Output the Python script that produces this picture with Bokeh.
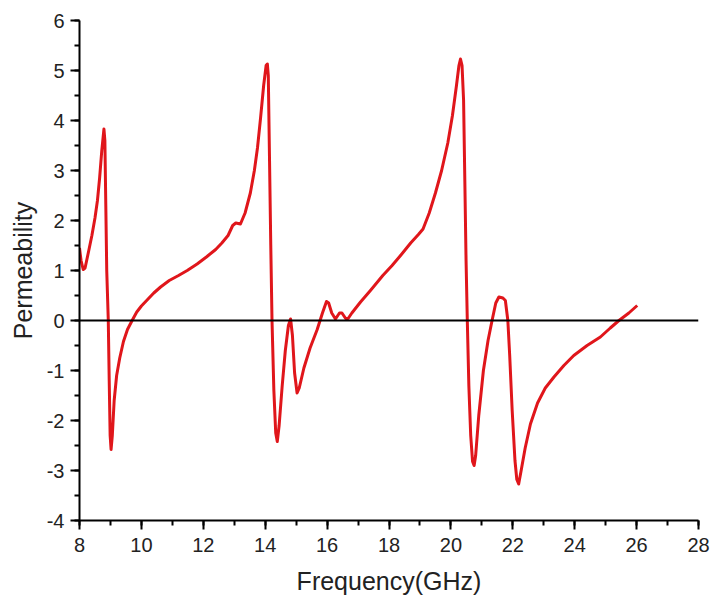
from bokeh.plotting import figure
from bokeh.models import Range1d, SingleIntervalTicker, Span, PrintfTickFormatter
from bokeh.embed import file_html
from bokeh.resources import INLINE

freq = [8.00, 8.05, 8.12, 8.18, 8.30, 8.40, 8.50, 8.58, 8.65, 8.72, 8.79, 8.82, 8.85, 8.88, 8.93,
        8.96, 8.99, 9.02, 9.06, 9.12, 9.20, 9.30, 9.42, 9.55, 9.70, 9.85, 10.00, 10.20, 10.40,
        10.62, 10.90, 11.20, 11.48, 11.80, 12.10, 12.40, 12.60, 12.80, 12.95, 13.05, 13.20,
        13.35, 13.52, 13.65, 13.75, 13.85, 13.95, 14.03, 14.07, 14.10, 14.14, 14.18, 14.22,
        14.28, 14.34, 14.39, 14.45, 14.55, 14.65, 14.75, 14.82, 14.88, 14.95, 15.03, 15.10,
        15.25, 15.45, 15.68, 15.85, 15.98, 16.05, 16.15, 16.27, 16.40, 16.48, 16.60, 16.68,
        16.80, 17.08, 17.40, 17.80, 18.10, 18.40, 18.70, 18.95, 19.10, 19.30, 19.50, 19.70,
        19.90, 20.05, 20.18, 20.26, 20.31, 20.36, 20.41, 20.45, 20.49, 20.53, 20.58, 20.64,
        20.70, 20.75, 20.80, 20.90, 21.05, 21.20, 21.33, 21.45, 21.55, 21.68, 21.76, 21.80,
        21.84, 21.90, 21.98, 22.07, 22.13, 22.19, 22.27, 22.40, 22.57, 22.80, 23.05, 23.33,
        23.65, 23.97, 24.40, 24.83, 25.15, 25.43, 25.75, 26.02]

permeability = [1.45, 1.20, 1.02, 1.05, 1.40, 1.70, 2.05, 2.40, 2.85, 3.40, 3.83, 3.60, 2.30, 1.00, 0.00,
                -1.20, -2.30, -2.58, -2.30, -1.60, -1.10, -0.75, -0.42, -0.18, 0.00, 0.17, 0.29, 0.42, 0.55,
                0.67, 0.80, 0.90, 1.00, 1.13, 1.27, 1.42, 1.55, 1.70, 1.90, 1.95, 1.93,
                2.15, 2.55, 3.00, 3.45, 4.05, 4.70, 5.10, 5.13, 4.90, 3.20, 1.50, 0.00,
                -1.40, -2.25, -2.42, -2.10, -1.30, -0.60, -0.10, 0.03, -0.30, -1.05, -1.45, -1.35,
                -0.95, -0.55, -0.18, 0.15, 0.38, 0.35, 0.15, 0.03, 0.15, 0.15, 0.04, 0.04,
                0.15, 0.37, 0.60, 0.90, 1.10, 1.32, 1.55, 1.72, 1.83, 2.15, 2.55, 3.00,
                3.55, 4.10, 4.70, 5.10, 5.23, 5.10, 4.40, 2.80, 1.20, 0.00, -1.30, -2.30,
                -2.82, -2.90, -2.70, -1.90, -1.00, -0.40, 0.00, 0.35, 0.47, 0.45, 0.40, 0.20,
                0.00, -0.70, -1.80, -2.80, -3.18, -3.27, -3.00, -2.55, -2.07, -1.65, -1.35, -1.13,
                -0.90, -0.70, -0.50, -0.33, -0.15, 0.00, 0.15, 0.30]

x_label = "Frequency(GHz)"
y_label = "Permeability"
FONT = "Liberation Sans"

p = figure(width=714, height=599, output_backend="svg", toolbar_location=None,
           x_range=Range1d(8, 28), y_range=Range1d(-4, 6),
           min_border_left=79, min_border_right=16, min_border_top=20, min_border_bottom=79)
p.outline_line_color = None
p.xgrid.visible = False
p.ygrid.visible = False
p.background_fill_color = "white"
p.border_fill_color = "white"

p.xaxis.ticker = SingleIntervalTicker(interval=2, num_minor_ticks=2)
p.yaxis.ticker = SingleIntervalTicker(interval=1, num_minor_ticks=2)

for ax in (p.xaxis[0], p.yaxis[0]):
    ax.formatter = PrintfTickFormatter(format="%d")
    ax.axis_line_width = 2
    ax.axis_line_color = "black"
    ax.major_tick_line_width = 2
    ax.minor_tick_line_width = 2
    ax.major_tick_line_color = "black"
    ax.minor_tick_line_color = "black"
    ax.major_tick_out = 9
    ax.major_tick_in = 0
    ax.minor_tick_out = 5
    ax.minor_tick_in = 0
    ax.major_label_text_font = FONT
    ax.major_label_text_font_size = "20px"
    ax.major_label_text_color = "#222222"
    ax.axis_label_text_font = FONT
    ax.axis_label_text_font_size = "25px"
    ax.axis_label_text_font_style = "normal"
    ax.axis_label_text_color = "#222222"

p.xaxis.axis_label = x_label
p.yaxis.axis_label = y_label
p.xaxis.major_label_standoff = 8
p.yaxis.major_label_standoff = 6
p.xaxis.axis_label_standoff = 12
p.yaxis.axis_label_standoff = 7

zero = Span(location=0, dimension="width", line_color="black", line_width=2)
p.add_layout(zero)

p.line(freq, permeability, line_color="#e0161b", line_width=3, line_join="round")

open("out.html", "w").write(file_html(p, INLINE))
